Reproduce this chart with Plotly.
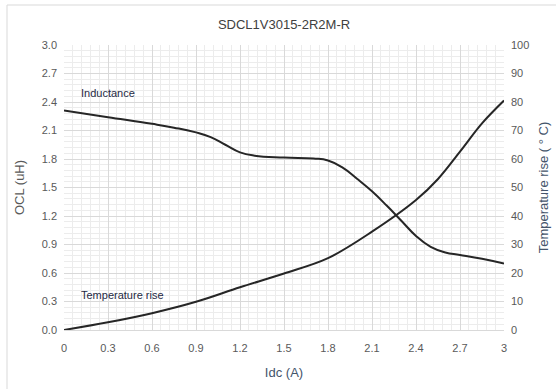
import plotly.graph_objects as go

idc_l = [0, 0.3, 0.6, 0.75, 0.9, 1.0, 1.1, 1.2, 1.3, 1.5, 1.7, 1.8, 1.9, 2.0, 2.1, 2.2, 2.3, 2.4, 2.5, 2.6, 2.7, 2.85, 3.0]
ocl = [2.31, 2.24, 2.17, 2.13, 2.08, 2.03, 1.95, 1.87, 1.835, 1.815, 1.805, 1.785, 1.71, 1.59, 1.46, 1.31, 1.15, 0.99, 0.875, 0.815, 0.79, 0.75, 0.70]

idc_t = [0, 0.3, 0.6, 0.9, 1.2, 1.5, 1.8, 2.1, 2.4, 2.55, 2.7, 2.85, 3.0]
temp = [0, 2.7, 5.9, 9.9, 15.0, 19.8, 25.2, 34.5, 45.6, 53.0, 62.6, 72.5, 80.5]

x_ticks = [0, 0.3, 0.6, 0.9, 1.2, 1.5, 1.8, 2.1, 2.4, 2.7, 3.0]
x_labels = ["0", "0.3", "0.6", "0.9", "1.2", "1.5", "1.8", "2.1", "2.4", "2.7", "3"]
y_ticks = [0, 0.3, 0.6, 0.9, 1.2, 1.5, 1.8, 2.1, 2.4, 2.7, 3.0]
y_labels = ["0.0", "0.3", "0.6", "0.9", "1.2", "1.5", "1.8", "2.1", "2.4", "2.7", "3.0"]
y2_ticks = [0, 10, 20, 30, 40, 50, 60, 70, 80, 90, 100]

tick_font = dict(family="Liberation Sans Narrow, Liberation Sans, sans-serif", size=11, color="#595959")

fig = go.Figure()
fig.add_trace(go.Scatter(x=idc_l, y=ocl, mode="lines", line=dict(color="#262626", width=2, shape="spline", smoothing=1.3),
                         name="Inductance", showlegend=False))
fig.add_trace(go.Scatter(x=idc_t, y=temp, mode="lines", line=dict(color="#262626", width=2, shape="spline", smoothing=1.0),
                         name="Temperature rise", yaxis="y2", showlegend=False))

fig.update_layout(
    width=556, height=389,
    margin=dict(l=64, r=52, t=45, b=59),
    paper_bgcolor="white", plot_bgcolor="white",
    title=dict(text="SDCL1V3015-2R2M-R", x=0.5, xref="paper", y=1 - 24 / 389, yanchor="middle",
               font=dict(family="Liberation Sans Narrow, Liberation Sans, sans-serif", size=13, color="#404040")),
    xaxis=dict(range=[0, 3], tickvals=x_ticks, ticktext=x_labels, tickfont=tick_font, ticklabelstandoff=8,
               automargin=False,
               showgrid=True, gridcolor="#d9d9d9", gridwidth=1,
               minor=dict(dtick=0.06, showgrid=True, gridcolor="#ececec", gridwidth=1),
               showline=True, linecolor="#d9d9d9", zeroline=False, ticks="",
               title=dict(text="Idc (A)", font=dict(family="Liberation Sans, sans-serif", size=13, color="#44546A"), standoff=14)),
    yaxis=dict(range=[0, 3], tickvals=y_ticks, ticktext=y_labels, tickfont=tick_font, ticklabelstandoff=6,
               automargin=False,
               showgrid=True, gridcolor="#d9d9d9", gridwidth=1,
               minor=dict(dtick=0.06, showgrid=True, gridcolor="#ececec", gridwidth=1),
               showline=False, zeroline=False, ticks="",
               title=dict(text="OCL (uH)", font=dict(family="Liberation Sans, sans-serif", size=13, color="#595959"), standoff=14)),
    yaxis2=dict(range=[0, 100], tickvals=y2_ticks, overlaying="y", side="right", tickfont=tick_font, ticklabelstandoff=6,
                automargin=False,
                showgrid=False, zeroline=False, showline=False, ticks="",
                title=dict(text="Temperature rise ( ° C)", font=dict(family="Liberation Sans, sans-serif", size=13, color="#44546A"), standoff=10)),
    annotations=[
        dict(x=0.1, y=2.5, xref="x", yref="y", text="Inductance", showarrow=False, xanchor="left",
             font=dict(family="Liberation Sans Narrow, Liberation Sans, sans-serif", size=11, color="#1f2a44")),
        dict(x=0.1, y=0.37, xref="x", yref="y", text="Temperature rise", showarrow=False, xanchor="left",
             font=dict(family="Liberation Sans Narrow, Liberation Sans, sans-serif", size=11, color="#1f2a44")),
    ],
    shapes=[dict(type="rect", xref="paper", yref="paper", x0=(7 - 64) / 440, x1=1.3, y0=-0.4, y1=(330 - 5) / 285,
                 line=dict(color="#d9d9d9", width=1), layer="below")],
)

fig.write_html("out.html")
